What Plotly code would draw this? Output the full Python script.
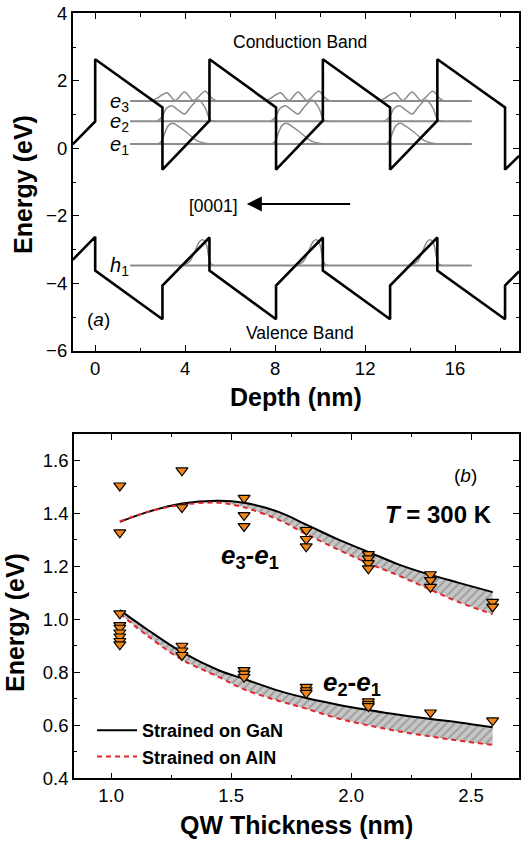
import plotly.graph_objects as go

FONT = "Liberation Sans, Arial, Helvetica, sans-serif"

# ---------------- Panel (a): band profile ----------------
depth_nodes = [-1.0, 0.0, 0.0, 2.99, 2.99, 5.08, 5.08, 8.04, 8.04, 10.12, 10.12,
               13.11, 13.11, 15.21, 15.21, 18.22, 18.22, 18.84]
cb_energy = [0.12, 0.80, 2.64, 1.21, -0.63, 0.82, 2.64, 1.21, -0.63, 0.82, 2.64,
             1.21, -0.63, 0.82, 2.64, 1.21, -0.63, -0.22]
vb_energy = [-3.30, -2.62, -3.62, -5.06, -4.06, -2.64, -3.62, -5.06, -4.06, -2.64, -3.62,
             -5.06, -4.06, -2.64, -3.62, -5.06, -4.06, -3.64]

level_names = ["e3", "e2", "e1", "h1"]
level_energy = [1.40, 0.80, 0.13, -3.47]
level_span = [1.55, 16.74]
well_starts = [2.99, 8.04, 13.11]

# wavefunction shapes: offset from well start (nm), height above level (eV)
psi_dx = {
    "e3": [-0.55, -0.25, -0.03, 0.20, 0.57, 0.98, 1.38, 1.90, 2.20, 2.42],
    "e2": [-0.25, -0.03, 0.17, 0.42, 0.67, 0.98, 1.28, 1.60, 1.90, 2.12, 2.35],
    "e1": [-0.18, -0.03, 0.12, 0.27, 0.49, 0.71, 1.08, 1.53, 1.90, 2.27],
    "h1": [0.91, 1.21, 1.46, 1.66, 1.81, 1.96, 2.06, 2.16, 2.31],
}
psi_amp = {
    "e3": [0.0, 0.08, 0.18, 0.25, 0.02, 0.27, 0.02, 0.29, 0.08, 0.0],
    "e2": [0.0, 0.12, 0.38, 0.46, 0.35, 0.22, 0.45, 0.63, 0.40, 0.05, 0.0],
    "e1": [0.0, 0.10, 0.35, 0.55, 0.61, 0.52, 0.34, 0.10, 0.02, 0.0],
    "h1": [0.0, 0.12, 0.45, 0.72, 0.76, 0.60, 0.25, 0.05, 0.0],
}

# ---------------- Panel (b): transition energies ----------------
thickness = [1.036, 1.15, 1.295, 1.45, 1.554, 1.70, 1.813, 1.95, 2.072, 2.20, 2.331, 2.45, 2.59]
e31_gan = [1.368, 1.405, 1.438, 1.448, 1.440, 1.405, 1.358, 1.300, 1.255, 1.207, 1.168, 1.138, 1.103]
e31_aln = [1.370, 1.405, 1.433, 1.440, 1.423, 1.375, 1.322, 1.262, 1.212, 1.165, 1.112, 1.065, 1.020]
e21_gan = [1.035, 0.962, 0.876, 0.807, 0.775, 0.730, 0.703, 0.677, 0.658, 0.640, 0.624, 0.611, 0.593]
e21_aln = [1.022, 0.939, 0.848, 0.782, 0.736, 0.692, 0.663, 0.625, 0.600, 0.577, 0.558, 0.542, 0.526]

meas_e31_x = [1.036, 1.036, 1.295, 1.295, 1.554, 1.554, 1.554, 1.813, 1.813, 1.813,
              2.072, 2.072, 2.072, 2.072, 2.331, 2.331, 2.331, 2.59, 2.59]
meas_e31_y = [1.505, 1.328, 1.562, 1.423, 1.458, 1.393, 1.352, 1.337, 1.303, 1.275,
              1.246, 1.230, 1.212, 1.192, 1.170, 1.148, 1.122, 1.066, 1.048]
meas_e21_x = [1.036, 1.036, 1.036, 1.036, 1.036, 1.036, 1.036, 1.295, 1.295, 1.295,
              1.554, 1.554, 1.554, 1.813, 1.813, 1.813, 2.072, 2.072, 2.072, 2.331, 2.59]
meas_e21_y = [1.022, 0.978, 0.968, 0.950, 0.935, 0.918, 0.905, 0.900, 0.882, 0.865,
              0.808, 0.795, 0.782, 0.745, 0.732, 0.722, 0.690, 0.680, 0.672, 0.648, 0.618]

GRAY = "#8c8c8c"
ORANGE = "#F0861A"
RED = "#E3262B"

fig = go.Figure()

# energy levels
for name, E in zip(level_names, level_energy):
    fig.add_trace(go.Scatter(x=level_span, y=[E, E], mode="lines",
                             line=dict(color=GRAY, width=2), showlegend=False,
                             xaxis="x", yaxis="y", hoverinfo="skip"))
# wavefunctions
for name, E in zip(level_names, level_energy):
    for x0 in well_starts:
        fig.add_trace(go.Scatter(x=[x0 + d for d in psi_dx[name]],
                                 y=[E + a for a in psi_amp[name]],
                                 mode="lines", line=dict(color=GRAY, width=1.5, shape="spline", smoothing=0.9),
                                 showlegend=False, xaxis="x", yaxis="y", hoverinfo="skip"))
# bands
for band in (cb_energy, vb_energy):
    fig.add_trace(go.Scatter(x=depth_nodes, y=band, mode="lines",
                             line=dict(color="black", width=2.6), showlegend=False,
                             xaxis="x", yaxis="y", hoverinfo="skip"))

# panel (b) hatched regions
for lo, hi in ((e31_aln, e31_gan), (e21_aln, e21_gan)):
    fig.add_trace(go.Scatter(x=thickness, y=lo, mode="lines", line=dict(width=0, shape="spline"),
                             showlegend=False, xaxis="x2", yaxis="y2", hoverinfo="skip"))
    fig.add_trace(go.Scatter(x=thickness, y=hi, mode="lines", line=dict(width=0, shape="spline"),
                             fill="tonexty", fillcolor="#c6c6c6",
                             fillpattern=dict(shape="/", bgcolor="#c6c6c6", fgcolor="#6e6e6e",
                                              size=6, solidity=0.3),
                             showlegend=False, xaxis="x2", yaxis="y2", hoverinfo="skip"))
# curves
fig.add_trace(go.Scatter(x=thickness, y=e31_gan, mode="lines", name="Strained on GaN",
                         line=dict(color="black", width=2, shape="spline"),
                         legendgroup="g", legendrank=1, xaxis="x2", yaxis="y2"))
fig.add_trace(go.Scatter(x=thickness, y=e31_aln, mode="lines", name="Strained on AlN",
                         line=dict(color=RED, width=2, dash="5px,4px", shape="spline"),
                         legendgroup="a", legendrank=2, xaxis="x2", yaxis="y2"))
fig.add_trace(go.Scatter(x=thickness, y=e21_gan, mode="lines", showlegend=False,
                         line=dict(color="black", width=2, shape="spline"), xaxis="x2", yaxis="y2"))
fig.add_trace(go.Scatter(x=thickness, y=e21_aln, mode="lines", showlegend=False,
                         line=dict(color=RED, width=2, dash="5px,4px", shape="spline"),
                         xaxis="x2", yaxis="y2"))
# measurements
for mx, my in ((meas_e31_x, meas_e31_y), (meas_e21_x, meas_e21_y)):
    fig.add_trace(go.Scatter(x=mx, y=my, mode="markers", showlegend=False,
                             marker=dict(symbol="triangle-down", size=10.5, color=ORANGE,
                                         line=dict(color="black", width=1.2)),
                             xaxis="x2", yaxis="y2"))

W, H = 531, 842


def ax(**kw):
    d = dict(showline=True, linecolor="black", linewidth=1.6, mirror="allticks",
             ticks="inside", ticklen=6, tickwidth=1.4, tickcolor="black",
             showgrid=False, zeroline=False, automargin=False,
             tickfont=dict(size=18.5, color="black", family=FONT))
    d.update(kw)
    return d


minor = lambda dt: dict(ticks="inside", ticklen=3.5, tickwidth=1.2, tickcolor="black", dtick=dt, showgrid=False)

fig.update_layout(
    width=W, height=H, margin=dict(l=0, r=0, t=0, b=0, autoexpand=False),
    plot_bgcolor="white", paper_bgcolor="white",
    font=dict(family=FONT, color="black"),
    xaxis=ax(domain=[72.7 / W, 519 / W], range=[-1.0, 18.84], tick0=0, dtick=4,
             minor=minor(2), anchor="y"),
    yaxis=ax(domain=[1 - 351 / H, 1 - 13.3 / H], range=[-6, 4], tick0=0, dtick=2,
             minor=minor(1), anchor="x"),
    xaxis2=ax(domain=[74 / W, 519 / W], range=[0.845, 2.70], tick0=1.0, dtick=0.5,
              tickformat=".1f", minor=minor(0.25), anchor="y2"),
    yaxis2=ax(domain=[1 - 778.3 / H, 1 - 434 / H], range=[0.4, 1.7], tick0=0.4, dtick=0.2,
              tickformat=".1f", minor=minor(0.1), anchor="x2"),
    showlegend=True,
    legend=dict(x=92 / W, y=1 - 775 / H, xanchor="left", yanchor="bottom",
                bgcolor="rgba(0,0,0,0)", font=dict(size=18, family=FONT, color="black", weight="bold"),
                traceorder="grouped", tracegroupgap=0, itemwidth=40),
)

ann = []
# axis titles
tfont = dict(size=25, family=FONT, color="black", weight="bold")
common = dict(xref="paper", yref="paper", showarrow=False, font=tfont, xanchor="center", yanchor="middle")
ann.append(dict(text="Energy (eV)", x=23 / W, y=1 - 185 / H, textangle=-90, **common))
ann.append(dict(text="Depth (nm)", x=296 / W, y=1 - 397 / H, **common))
ann.append(dict(text="Energy (eV)", x=15 / W, y=1 - 623 / H, textangle=-90, **common))
ann.append(dict(text="QW Thickness (nm)", x=296 / W, y=1 - 825 / H, **common))
# panel (a) texts
f17 = dict(size=17.5, family=FONT, color="black")
ann.append(dict(text="Conduction Band", x=9.1, y=3.14, xref="x", yref="y", showarrow=False, font=f17))
ann.append(dict(text="Valence Band", x=9.1, y=-5.48, xref="x", yref="y", showarrow=False, font=f17))
ann.append(dict(text="[0001]", x=6.45, y=-1.70, xref="x", yref="y", xanchor="right",
                showarrow=False, font=f17))
ann.append(dict(text="", x=6.74, y=-1.645, ax=11.4, ay=-1.645, axref="x", ayref="y",
                xref="x", yref="y", showarrow=True, arrowhead=2, arrowsize=1.5,
                arrowwidth=2, arrowcolor="black"))
ann.append(dict(text="(<i>a</i>)", x=0.13, y=-5.07, xref="x", yref="y", showarrow=False,
                font=dict(size=19, family=FONT, color="black")))
for name, E in zip(level_names, level_energy):
    ann.append(dict(text="<i>%s</i><sub>%s</sub>" % (name[0], name[1]), x=1.58, y=E - 0.03,
                    xref="x", yref="y", xanchor="right", yanchor="middle", showarrow=False,
                    font=dict(size=20, family=FONT, color="black")))
# panel (b) texts
ann.append(dict(text="(<i>b</i>)", x=2.478, y=1.544, xref="x2", yref="y2", showarrow=False,
                font=dict(size=19, family=FONT, color="black")))
ann.append(dict(text="<b><i>T</i> = 300 K</b>", x=2.364, y=1.395, xref="x2", yref="y2",
                showarrow=False, font=dict(size=24, family=FONT, color="black")))
ann.append(dict(text="<b><i>e</i><sub>3</sub>-<i>e</i><sub>1</sub></b>", x=1.578, y=1.237,
                xref="x2", yref="y2", showarrow=False, font=dict(size=26, family=FONT, color="black")))
ann.append(dict(text="<b><i>e</i><sub>2</sub>-<i>e</i><sub>1</sub></b>", x=2.005, y=0.757,
                xref="x2", yref="y2", showarrow=False, font=dict(size=26, family=FONT, color="black")))
fig.update_layout(annotations=ann)

fig.write_html("out.html")
